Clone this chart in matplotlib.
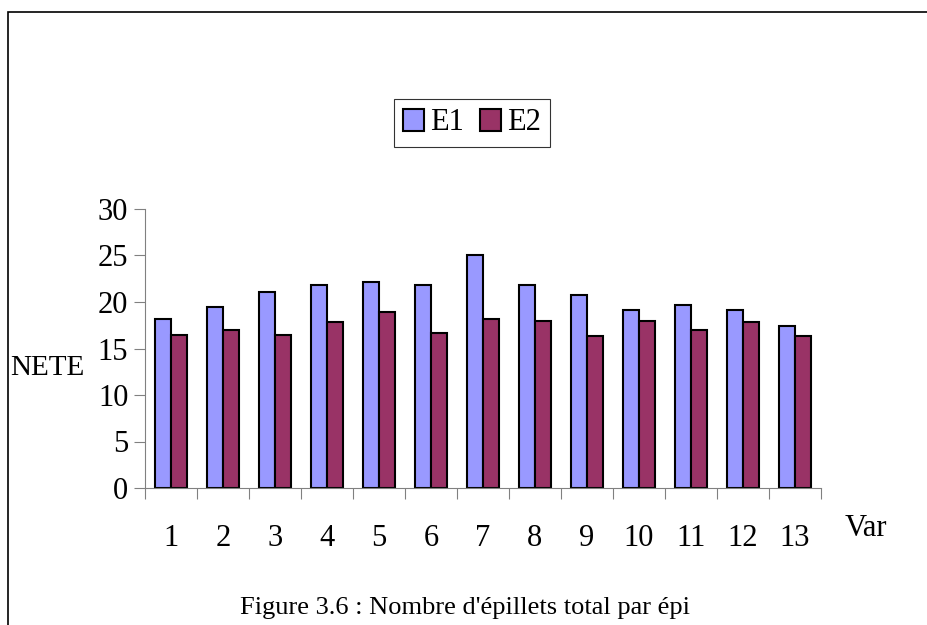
import matplotlib.pyplot as plt
import numpy as np
from matplotlib.patches import Rectangle

# Nombre d'épillets total par épi (NETE) par variété
varietes = ['1', '2', '3', '4', '5', '6', '7', '8', '9', '10', '11', '12', '13']
e1 = [18.2, 19.5, 21.05, 21.85, 22.15, 21.85, 25.1, 21.85, 20.8, 19.1, 19.7, 19.1, 17.4]
e2 = [16.45, 16.95, 16.45, 17.8, 18.9, 16.7, 18.2, 18.0, 16.3, 18.0, 16.95, 17.8, 16.3]

plt.rcParams['font.family'] = ['Liberation Serif', 'DejaVu Serif']

fig = plt.figure(figsize=(9.28, 6.25), dpi=100)
W, H = 928, 625
ax = fig.add_axes([145 / W, 1 - 488 / H, (821 - 145) / W, (488 - 209) / H])

x = np.arange(len(varietes))
w = 0.31
ax.bar(x - w / 2, e1, w, color='#9999ff', edgecolor='black', linewidth=1.5, label='E1')
ax.bar(x + w / 2, e2, w, color='#993366', edgecolor='black', linewidth=1.5, label='E2')

ax.set_xlim(-0.5, len(varietes) - 0.5)
ax.set_ylim(0, 30)
ax.set_yticks([0, 5, 10, 15, 20, 25, 30])
ax.set_xticks(np.arange(-0.5, len(varietes), 1.0))
ax.set_xticklabels([])
ax.set_xticks(x, minor=True)
ax.set_xticklabels(varietes, minor=True)
ax.tick_params(axis='x', which='minor', length=0, pad=26, labelsize=22)
ax.tick_params(axis='x', which='major', length=8, color='#808080', direction='out')
ax.tick_params(axis='y', length=8, color='#808080', labelsize=22, pad=4)
for s in ['top', 'right']:
    ax.spines[s].set_visible(False)
for s in ['left', 'bottom']:
    ax.spines[s].set_color('#808080')

fig.text(10 / W, 1 - 368 / H, 'NETE', fontsize=21, va='center', ha='left')
fig.text(845 / W, 1 - 529 / H, 'Var', fontsize=22, va='center', ha='left')
fig.text(465 / W, 1 - 608 / H, "Figure 3.6 : Nombre d'épillets total par épi",
         fontsize=19, va='center', ha='center')

leg = fig.legend(loc='center', bbox_to_anchor=(472 / W, 1 - 123 / H), ncol=2,
                 fontsize=22, frameon=True, fancybox=False, handlelength=0.7,
                 handleheight=0.7, handletextpad=0.2, columnspacing=0.5,
                 borderpad=0.3, borderaxespad=0)
leg.get_frame().set_edgecolor('black')
leg.get_frame().set_linewidth(0.8)

fig.patches.append(Rectangle((8 / W, -0.1), 1.2, 1 - 12 / H + 0.1,
                             transform=fig.transFigure, fill=False,
                             edgecolor='black', linewidth=1.2))

fig.savefig('out.png', dpi=100)
